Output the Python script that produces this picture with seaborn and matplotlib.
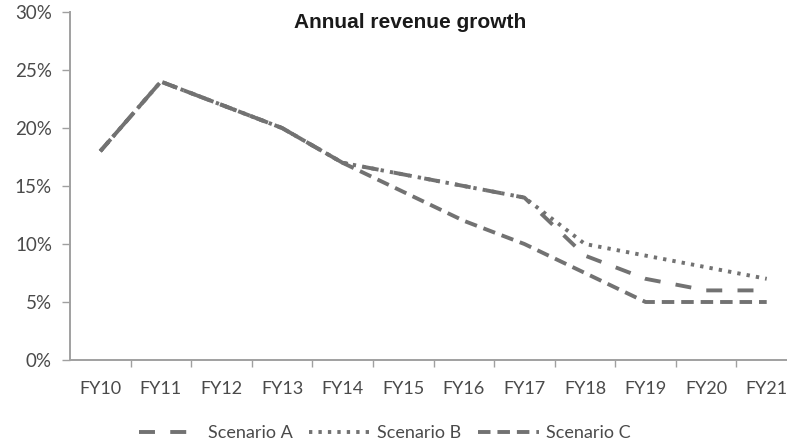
import matplotlib
matplotlib.use("Agg")
import matplotlib.pyplot as plt
from matplotlib.ticker import FixedLocator, FuncFormatter
import numpy as np
import pandas as pd
import seaborn as sns

# Fiscal years and growth rates (%) per scenario
years = ["FY10", "FY11", "FY12", "FY13", "FY14", "FY15",
         "FY16", "FY17", "FY18", "FY19", "FY20", "FY21"]
scenario_a = [18, 24, 22, 20, 17, 16, 15, 14, 9, 7, 6, 6]
scenario_b = [18, 24, 22, 20, 17, 16, 15, 14, 10, 9, 8, 7]
scenario_c = [18, 24, 22, 20, 17, 14.5, 12, 10, 7.5, 5, 5, 5]
scenario_names = ["Scenario A", "Scenario B", "Scenario C"]
y_ticks = [0, 5, 10, 15, 20, 25, 30]

df = pd.DataFrame({
    "year": years * 3,
    "growth": scenario_a + scenario_b + scenario_c,
    "scenario": np.repeat(scenario_names, len(years)),
})

sns.set_theme(style="white")
plt.rcParams["font.family"] = ["Lato", "DejaVu Sans"]
plt.rcParams["lines.scale_dashes"] = False

line_grey = "#727272"
axis_grey = "#a0a0a0"
text_grey = "#4a4a4a"

fig = plt.figure(figsize=(7.87, 4.47), dpi=100)
ax = fig.add_axes([70 / 787, 87 / 447, 727 / 787, 348 / 447])

dash_styles = {
    "Scenario A": (11.5, 11.0),
    "Scenario B": (2.4, 4.4),
    "Scenario C": (9.0, 5.0),
}
sns.lineplot(data=df, x="year", y="growth", hue="scenario", style="scenario",
             palette=[line_grey] * 3, dashes=dash_styles, linewidth=2.8,
             sort=False, ax=ax, legend=True)

ax.set_xlim(-0.5, len(years) - 0.5)
ax.set_ylim(0, 30)
ax.set_yticks(y_ticks)
ax.yaxis.set_major_formatter(FuncFormatter(lambda v, _: f"{v:.0f}%"))
ax.set_xlabel("")
ax.set_ylabel("")

# Category ticks sit between the years, as in spreadsheet charts
ax.set_xticks(range(len(years)))
ax.set_xticklabels(years)
ax.xaxis.set_minor_locator(FixedLocator(np.arange(0.5, len(years) - 0.5, 1)))
ax.tick_params(axis="x", which="major", length=0, pad=15, labelsize=13,
               labelcolor=text_grey)
ax.tick_params(axis="x", which="minor", length=5, width=1.0, color=axis_grey,
               direction="out", bottom=True)
ax.tick_params(axis="y", which="major", length=6, width=1.0, color=axis_grey,
               direction="out", left=True, pad=7, labelsize=13.5,
               labelcolor=text_grey)

for side in ("top", "right"):
    ax.spines[side].set_visible(False)
for side in ("left", "bottom"):
    ax.spines[side].set_color(axis_grey)
    ax.spines[side].set_linewidth(1.4)

fig.text(410 / 787, 1 - 23 / 447, "Annual revenue growth", ha="center",
         va="center", fontsize=15, fontweight="bold", color="#1a1a1a",
         family=["Liberation Sans", "DejaVu Sans"])

handles, labels = ax.get_legend_handles_labels()
ax.legend(handles, labels, loc="center", bbox_to_anchor=(385 / 787, 1 - 433 / 447),
          bbox_transform=fig.transFigure, ncol=3, frameon=False,
          fontsize=13, labelcolor=text_grey, handlelength=3.4,
          columnspacing=0.9, handletextpad=0.4)

fig.savefig("out.png", dpi=100)
